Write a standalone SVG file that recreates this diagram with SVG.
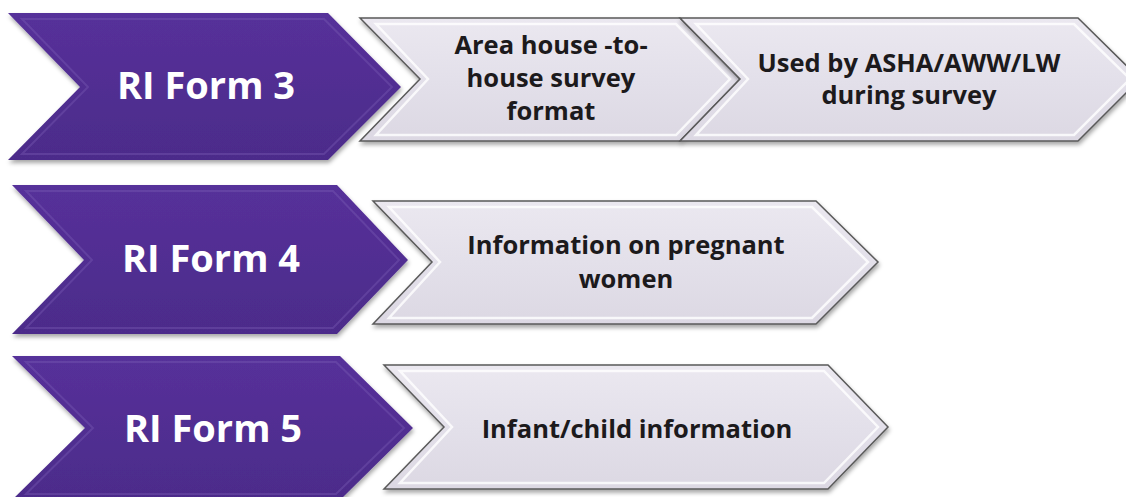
<svg xmlns="http://www.w3.org/2000/svg" width="1126" height="497" viewBox="0 0 1126 497">
  <style>
    .pur { fill: url(#gp); }
    .pur-bev { fill: none; stroke: #7a5cb3; stroke-opacity: 0.4; stroke-width: 2; }
    .gry { fill: url(#gg); stroke: #5a5a5a; stroke-width: 1.5; }
    .gry-bev { fill: none; stroke: #ffffff; stroke-opacity: 0.8; stroke-width: 2.5; }
    .t-w { font-family: "Open Sans", "Liberation Sans", sans-serif; font-weight: 700; font-size: 38px; fill: #ffffff; text-anchor: middle; }
    .t-b { font-family: "Open Sans", "Liberation Sans", sans-serif; font-weight: 700; font-size: 25.5px; fill: #1c1a1c; text-anchor: middle; }
  </style>
  <defs>
    <linearGradient id="gp" x1="0" y1="0" x2="0" y2="1">
      <stop offset="0" stop-color="#56309a"/>
      <stop offset="1" stop-color="#4c2c8a"/>
    </linearGradient>
    <linearGradient id="gg" x1="0" y1="0" x2="0" y2="1">
      <stop offset="0" stop-color="#ebe8f0"/>
      <stop offset="0.5" stop-color="#e3e0ea"/>
      <stop offset="1" stop-color="#dcd8e3"/>
    </linearGradient>
    <filter id="sh" x="-5%" y="-5%" width="115%" height="120%">
      <feDropShadow dx="1" dy="3" stdDeviation="2" flood-color="#000" flood-opacity="0.35"/>
    </filter>
  </defs>

  <g id="form3">
    <polygon class="pur" filter="url(#sh)" points="8,13 328,13 401,87 328,160 8,160 80,87"/>
    <polygon class="pur-bev" points="22,19 324,19 392,87 324,154 22,154 88,87"/>
    <text class="t-w" x="206" y="99">RI Form 3</text>
  </g>
  <g id="form3-desc1">
    <polygon class="gry" filter="url(#sh)" points="360,18 680,18 740,79 680,141 360,141 420,79"/>
    <polygon class="gry-bev" points="376,24 676,24 730,79 676,135 376,135 428,79"/>
    <text class="t-b" x="551" y="54">Area house -to-</text>
    <text class="t-b" x="551" y="87">house survey</text>
    <text class="t-b" x="551" y="120">format</text>
  </g>
  <g id="form3-desc2">
    <polygon class="gry" filter="url(#sh)" points="680,18 1078,18 1140,79 1078,141 680,141 740,79"/>
    <polygon class="gry-bev" points="696,24 1074,24 1130,79 1074,135 696,135 748,79"/>
    <text class="t-b" x="909" y="72">Used by ASHA/AWW/LW</text>
    <text class="t-b" x="909" y="104">during survey</text>
  </g>

  <g id="form4">
    <polygon class="pur" filter="url(#sh)" points="12,185 337,185 408,260 337,334 12,334 84,260"/>
    <polygon class="pur-bev" points="26,191 333,191 399,260 333,328 26,328 92,260"/>
    <text class="t-w" x="211" y="272">RI Form 4</text>
  </g>
  <g id="form4-desc">
    <polygon class="gry" filter="url(#sh)" points="373,201 816,201 878,262 816,324 373,324 432,262"/>
    <polygon class="gry-bev" points="389,207 812,207 868,262 812,318 389,318 440,262"/>
    <text class="t-b" x="626" y="254">Information on pregnant</text>
    <text class="t-b" x="626" y="288">women</text>
  </g>

  <g id="form5">
    <polygon class="pur" filter="url(#sh)" points="12,356 340,356 413,428 340,500 12,500 85,428"/>
    <polygon class="pur-bev" points="26,362 336,362 404,428 336,494 26,494 93,428"/>
    <text class="t-w" x="213" y="442">RI Form 5</text>
  </g>
  <g id="form5-desc">
    <polygon class="gry" filter="url(#sh)" points="384,365 828,365 888,427 828,489 384,489 444,427"/>
    <polygon class="gry-bev" points="400,371 824,371 878,427 824,483 400,483 452,427"/>
    <text class="t-b" x="637" y="438">Infant/child information</text>
  </g>

  <g id="connectors"></g>
</svg>
